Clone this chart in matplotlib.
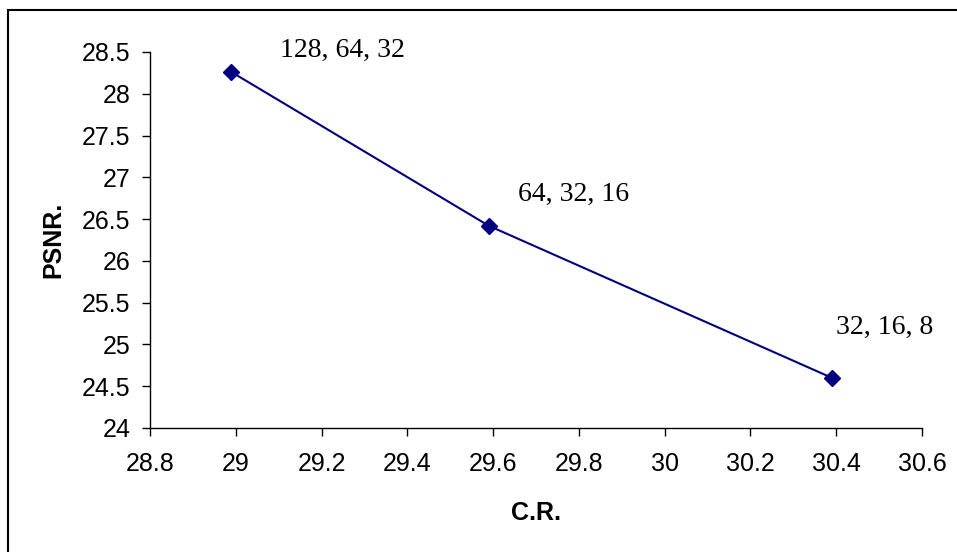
import matplotlib.pyplot as plt
from matplotlib.patches import Rectangle

# Data
cr = [28.99, 29.59, 30.39]
psnr = [28.26, 26.42, 24.60]
labels = ['128, 64, 32', '64, 32, 16', '32, 16, 8']
label_offsets = [(111, 22), (85, 31), (53, 50)]  # pixels from the point

fig = plt.figure(figsize=(9.57, 5.52), dpi=100)
ax = fig.add_axes([150 / 957, 1 - 428 / 552, (922 - 150) / 957, (428 - 52) / 552])

ax.plot(cr, psnr, color='#000080', lw=1.5, marker='D', markersize=8)

for x, y, t, off in zip(cr, psnr, labels, label_offsets):
    ax.annotate(t, (x, y), xytext=off, textcoords='offset pixels',
                ha='center', va='center', fontsize=20, family='Liberation Serif')

ax.set_xlim(28.8, 30.6)
ax.set_ylim(24, 28.5)
ax.set_xticks([28.8, 29, 29.2, 29.4, 29.6, 29.8, 30, 30.2, 30.4, 30.6])
ax.set_xticklabels(['28.8', '29', '29.2', '29.4', '29.6', '29.8', '30', '30.2', '30.4', '30.6'])
ax.set_yticks([24, 24.5, 25, 25.5, 26, 26.5, 27, 27.5, 28, 28.5])
ax.set_yticklabels(['24', '24.5', '25', '25.5', '26', '26.5', '27', '27.5', '28', '28.5'])

for s in ['top', 'right']:
    ax.spines[s].set_visible(False)
for s in ['left', 'bottom']:
    ax.spines[s].set_linewidth(1.0)

ax.tick_params(direction='out', length=6, width=1, labelsize=18)
ax.tick_params(axis='x', pad=11)
ax.tick_params(axis='y', pad=8)
for lab in ax.get_xticklabels() + ax.get_yticklabels():
    lab.set_family('Liberation Sans')

ax.set_xlabel('C.R.', fontsize=18, fontweight='bold', family='Liberation Sans', labelpad=18)
ax.set_ylabel('PSNR.', fontsize=18, fontweight='bold', family='Liberation Sans', labelpad=12)

# outer chart border
fig.patches.append(Rectangle((8 / 957, -0.1), 1.2, 1 - 10 / 552 + 0.1,
                             transform=fig.transFigure, fill=False,
                             edgecolor='black', lw=1.5))

fig.savefig('out.png', dpi=100)
